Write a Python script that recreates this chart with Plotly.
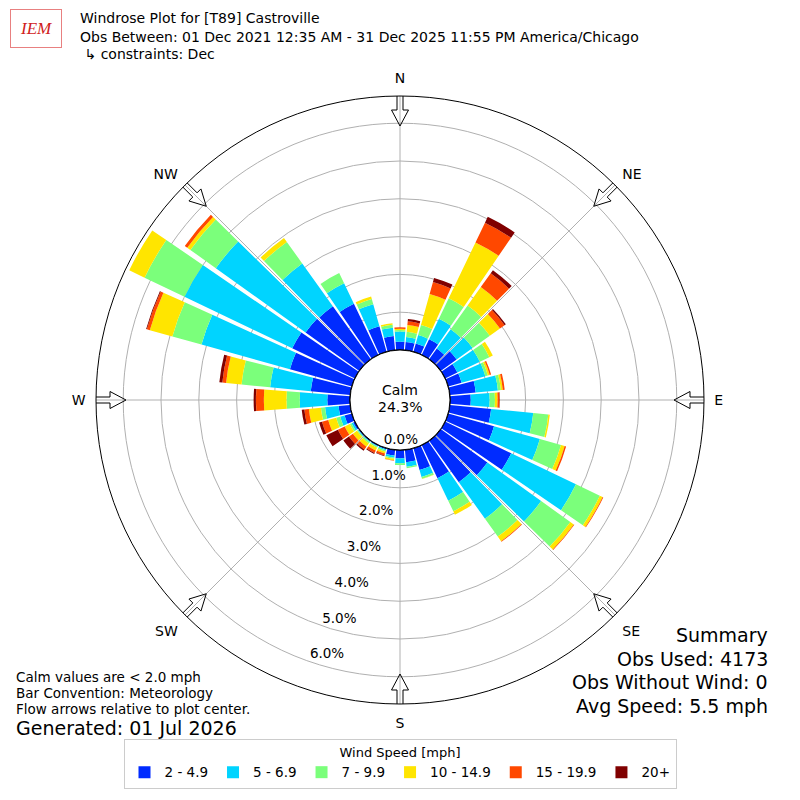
import math
import plotly.graph_objects as go

# ---------------- data (percent of observations) ----------------
directions = list(range(0, 360, 10))
speed_bins = ["2 - 4.9", "5 - 6.9", "7 - 9.9", "10 - 14.9", "15 - 19.9", "20+"]

freq_2_5 = [0.22, 0.22, 0.23, 0.46, 0.35, 0.52, 0.36, 0.37, 0.69, 0.55,
            1.10, 1.26, 1.94, 1.52, 1.35, 0.97, 0.60, 0.33, 0.22, 0.15,
            0.03, 0.03, 0.03, 0.03, 0.05, 0.20, 0.31, 0.60, 1.05, 1.70,
            1.84, 1.75, 1.73, 1.50, 0.70, 0.38]
freq_5_7 = [0.27, 0.13, 0.23, 0.60, 0.63, 0.52, 0.66, 0.65, 0.59, 0.50,
            1.12, 1.26, 1.90, 1.75, 1.19, 0.66, 0.19, 0.12, 0.13, 0.06,
            0.03, 0.02, 0.02, 0.02, 0.05, 0.12, 0.36, 0.73, 1.08, 2.43,
            3.16, 2.92, 1.39, 0.60, 0.61, 0.22]
freq_7_10 = [0.04, 0.14, 0.28, 0.60, 0.77, 0.56, 0.28, 0.07, 0.08, 0.14,
             0.40, 0.58, 0.70, 0.95, 0.58, 0.31, 0.05, 0.04, 0.05, 0.03,
             0.04, 0.03, 0.04, 0.03, 0.05, 0.11, 0.11, 0.35, 0.76, 0.80,
             1.17, 0.83, 0.70, 0.30, 0.14, 0.08]
freq_10_15 = [0.03, 0.18, 0.85, 1.64, 0.60, 0.33, 0.10, 0.05, 0.05, 0.07,
              0.04, 0.10, 0.08, 0.11, 0.15, 0.10, 0.01, 0.00, 0.00, 0.04,
              0.05, 0.08, 0.11, 0.13, 0.15, 0.22, 0.32, 0.60, 0.41, 0.62,
              0.45, 0.10, 0.13, 0.00, 0.07, 0.04]
freq_15_20 = [0.04, 0.10, 0.33, 0.58, 0.45, 0.15, 0.00, 0.04, 0.05, 0.05,
              0.00, 0.04, 0.02, 0.02, 0.02, 0.00, 0.00, 0.00, 0.00, 0.01,
              0.05, 0.07, 0.09, 0.13, 0.20, 0.17, 0.12, 0.21, 0.10, 0.08,
              0.00, 0.08, 0.00, 0.00, 0.00, 0.00]
freq_20_up = [0.00, 0.06, 0.11, 0.17, 0.10, 0.04, 0.00, 0.00, 0.00, 0.01,
              0.00, 0.00, 0.00, 0.00, 0.00, 0.00, 0.00, 0.00, 0.00, 0.00,
              0.02, 0.03, 0.04, 0.18, 0.34, 0.08, 0.07, 0.06, 0.08, 0.02,
              0.00, 0.00, 0.00, 0.00, 0.00, 0.00]

series = [freq_2_5, freq_5_7, freq_7_10, freq_10_15, freq_15_20, freq_20_up]
colors = ["#002BFF", "#00D4FF", "#7BFF7B", "#FFE500", "#FF4800", "#800000"]

compass_angles = [0, 45, 90, 135, 180, 225, 270, 315]
compass_labels = ["N", "NE", "E", "SE", "S", "SW", "W", "NW"]
radial_ticks = [0, 1, 2, 3, 4, 5, 6]
radial_labels = ["0.0%", "1.0%", "2.0%", "3.0%", "4.0%", "5.0%", "6.0%"]
calm_pct = 24.3

# ---------------- geometry / style ----------------
W = H = 792            # page body has an 8px margin
OFF = 8
R_MAX = 6.72            # radial range maximum (percent)
OUTER_PX = 304.0        # outer radius in px
HOLE_PX = 50.0          # calm circle radius in px
HOLE = HOLE_PX / OUTER_PX
S = R_MAX / (OUTER_PX - HOLE_PX)   # data units per px
CX = CY = 400           # centre in screen px
FONT = "DejaVu Sans"
RLABEL_BEARING = 199


def px(x):
    return (x - OFF) / W


def py(y):
    return 1 - (y - OFF) / H


fig = go.Figure()

for vals, name, col in zip(series, speed_bins, colors):
    fig.add_trace(go.Barpolar(
        r=vals, theta=directions, name=name, width=8.8,
        marker=dict(color=col, line=dict(width=0)),
        hoverinfo="skip",
    ))

# black calm circle at hole edge
circ_theta = list(range(0, 361, 2))
fig.add_trace(go.Scatterpolar(
    r=[0] * len(circ_theta), theta=circ_theta, mode="lines",
    line=dict(color="black", width=1.3), showlegend=False,
    hoverinfo="skip", cliponaxis=False,
))

# radial tick labels, placed on the grid circles along one bearing
fig.add_trace(go.Scatterpolar(
    r=radial_ticks, theta=[RLABEL_BEARING] * len(radial_ticks), mode="text",
    text=radial_labels, textposition="top right",
    textfont=dict(size=13.5, family=FONT, color="black"),
    showlegend=False, hoverinfo="skip", cliponaxis=False,
))

# hollow flow arrows (outline) pointing toward center
arrow_shape = [(306, -3), (290, -3), (290, -8.5), (274, 0), (290, 8.5),
               (290, 3), (306, 3), (306, -3)]
for ang in compass_angles:
    rr, tt = [], []
    for a, w in arrow_shape:
        rho = math.hypot(a, w)
        rr.append((rho - HOLE_PX) * S)
        tt.append(ang + math.degrees(math.atan2(w, a)))
    fig.add_trace(go.Scatterpolar(
        r=rr, theta=tt, mode="lines", line=dict(color="black", width=1),
        showlegend=False, hoverinfo="skip", cliponaxis=False,
    ))

fig.update_layout(
    width=W, height=H,
    margin=dict(l=0, r=0, t=0, b=0),
    paper_bgcolor="white",
    font=dict(family=FONT, color="black"),
    polar=dict(
        domain=dict(x=[px(CX - OUTER_PX), px(CX + OUTER_PX)],
                    y=[py(CY + OUTER_PX), py(CY - OUTER_PX)]),
        hole=HOLE,
        bgcolor="white",
        barmode="stack",
        radialaxis=dict(
            range=[0, R_MAX], tickvals=radial_ticks, showticklabels=False,
            showline=False, ticks="", gridcolor="#b0b0b0", gridwidth=1,
        ),
        angularaxis=dict(
            rotation=90, direction="clockwise",
            tickvals=compass_angles, ticktext=compass_labels,
            showline=True, linecolor="black", linewidth=1,
            gridcolor="#b0b0b0", gridwidth=1,
            ticks="outside", ticklen=7, tickcolor="rgba(0,0,0,0)",
            tickfont=dict(size=14, color="black"),
        ),
    ),
    legend=dict(
        orientation="h", x=px(400), xanchor="center", y=py(789), yanchor="bottom",
        bgcolor="white", bordercolor="#cccccc", borderwidth=1,
        font=dict(size=13.5), traceorder="normal",
        title=dict(text="Wind Speed [mph]", side="top center", font=dict(size=13)),
        itemwidth=30,
    ),
)


def note(text, x, y, size, xanchor="left", color="black"):
    fig.add_annotation(text=text, x=px(x), y=py(y), xref="paper", yref="paper",
                       xanchor=xanchor, yanchor="middle", showarrow=False,
                       font=dict(size=size, family=FONT, color=color))


# titles
note("Windrose Plot for [T89] Castroville", 78, 18, 14)
note("Obs Between: 01 Dec 2021 12:35 AM - 31 Dec 2025 11:55 PM America/Chicago", 78, 37, 14)
note(" \u21b3 constraints: Dec", 78, 54, 14)

# logo approximation
fig.add_annotation(text="<i>IEM</i>", x=px(36), y=py(29), xref="paper",
                   yref="paper", showarrow=False, xanchor="center", yanchor="middle",
                   font=dict(size=17, family="Liberation Serif", color="#d02020"),
                   bordercolor="#e88080", borderwidth=1, borderpad=9)

# calm text
note("Calm", 400, 390, 14, xanchor="center")
note(f"{calm_pct:.1f}%", 400, 407, 14, xanchor="center")

# bottom-left notes
note("Calm values are < 2.0 mph", 14, 677, 13.5)
note("Bar Convention: Meteorology", 14, 693, 13.5)
note("Flow arrows relative to plot center.", 14, 709, 13.5)
note("Generated: 01 Jul 2026", 14, 728, 19)

# summary
note("Summary", 770, 635, 19, xanchor="right")
note("Obs Used: 4173", 770, 659, 19, xanchor="right")
note("Obs Without Wind: 0", 770, 682, 19, xanchor="right")
note("Avg Speed: 5.5 mph", 770, 706, 19, xanchor="right")

fig.write_html("out.html")
